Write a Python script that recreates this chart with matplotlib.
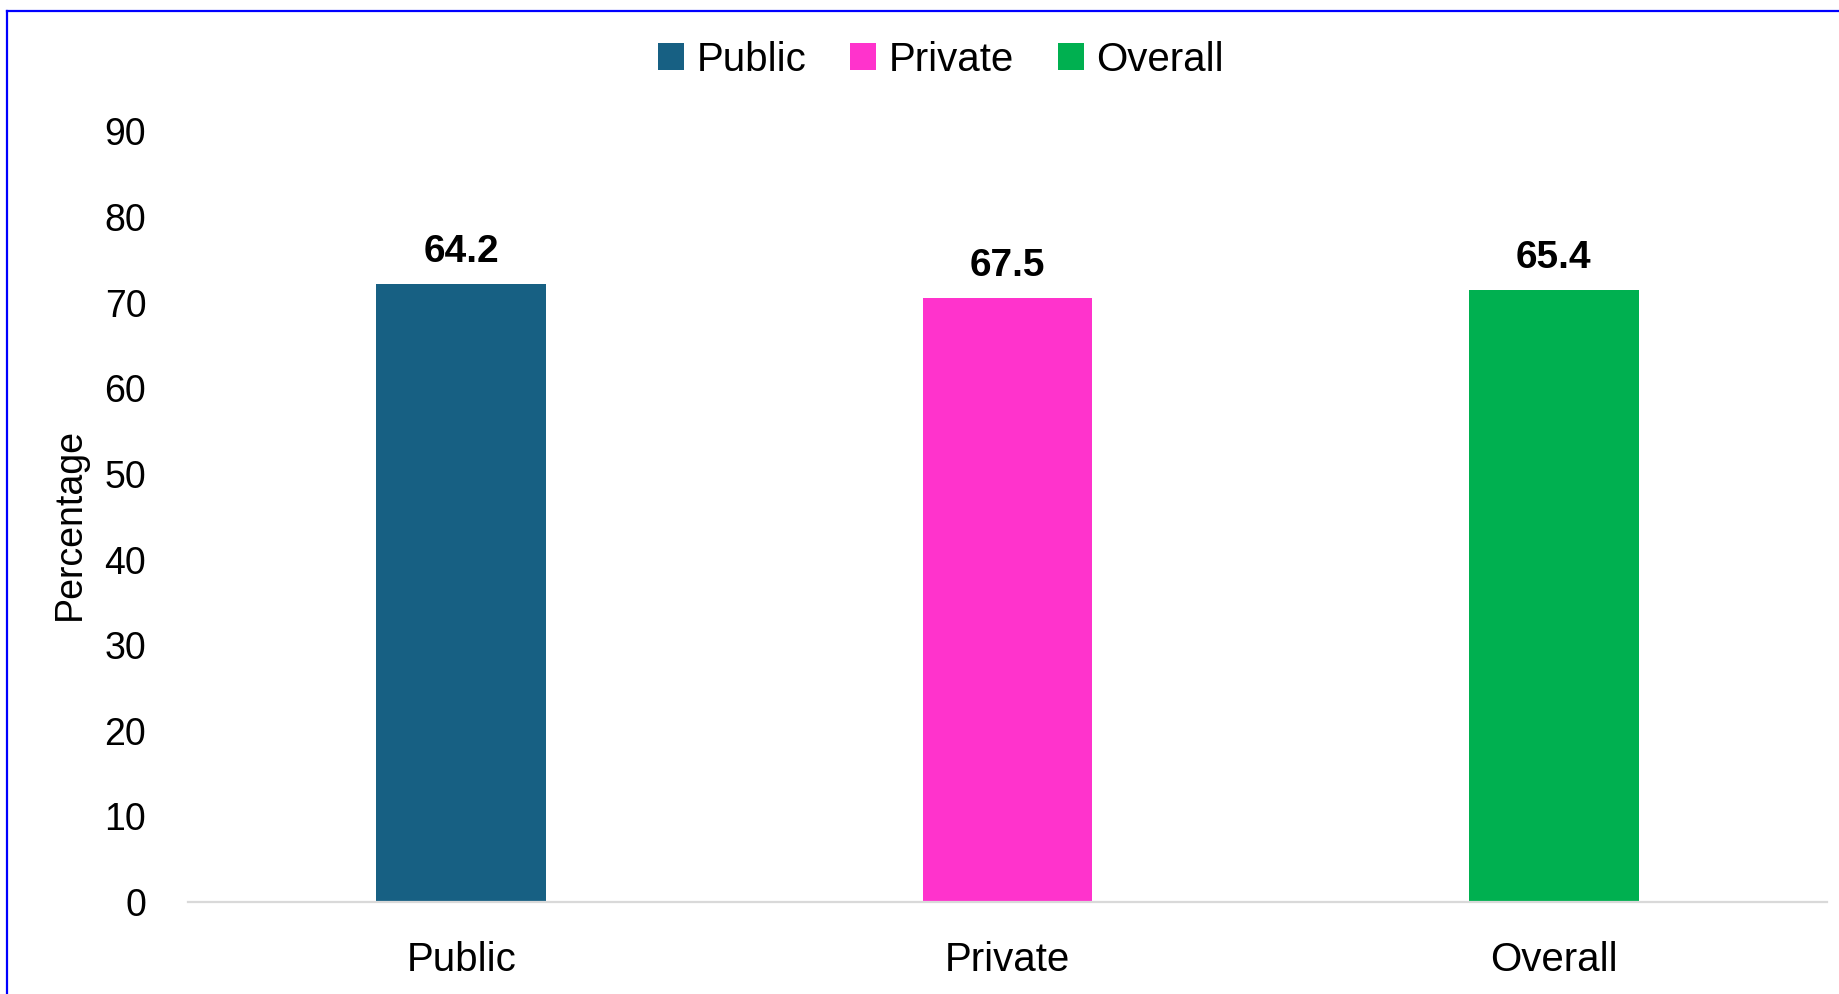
import matplotlib
matplotlib.use("Agg")
import matplotlib.pyplot as plt
from matplotlib.lines import Line2D
from matplotlib.patches import Patch

categories = ["Public", "Private", "Overall"]
bar_heights = [72.2, 70.5, 71.5]
value_labels = ["64.2", "67.5", "65.4"]
colors = ["#176083", "#FF33CC", "#00B050"]
yticks = [0, 10, 20, 30, 40, 50, 60, 70, 80, 90]

plt.rcParams['font.family'] = ['Liberation Sans', 'DejaVu Sans']

W, H = 1839, 994
fig = plt.figure(figsize=(W / 100, H / 100), dpi=100)
ax = fig.add_axes([188 / W, 1 - 902 / H, (1827 - 188) / W, (902 - 131.4) / H])

x = range(len(categories))
ax.bar(x, bar_heights, width=0.31, color=colors)
for xi, h, lab in zip(x, bar_heights, value_labels):
    ax.annotate(lab, (xi, h), xytext=(0, 10), textcoords="offset points",
                ha="center", va="bottom", fontsize=28, fontweight="bold")

ax.set_xlim(-0.5, 2.5)
ax.set_ylim(0, 90)
ax.set_yticks(yticks)
ax.set_xticks(list(x))
ax.set_xticklabels(categories, fontsize=29)
ax.tick_params(axis="y", labelsize=27, length=0, pad=30)
ax.tick_params(axis="x", length=0, pad=28)
for s in ["top", "right", "left"]:
    ax.spines[s].set_visible(False)
ax.spines["bottom"].set_color("#D9D9D9")
ax.spines["bottom"].set_linewidth(1.6)
ax.set_ylabel("Percentage", fontsize=27)
ax.yaxis.set_label_coords(-0.061, 0.49)

handles = [Patch(facecolor=c, label=l) for c, l in zip(colors, categories)]
fig.legend(handles=handles, loc="center", bbox_to_anchor=(941 / W, 1 - 60 / H),
           ncol=3, frameon=False, fontsize=29, handlelength=0.65, handleheight=0.65,
           handletextpad=0.3, columnspacing=1.1)

# blue border (top and left visible)
fig.add_artist(Line2D([7 / W, 1.01], [1 - 11 / H, 1 - 11 / H], color="#0000FF", lw=1.6,
                      transform=fig.transFigure))
fig.add_artist(Line2D([7 / W, 7 / W], [-0.01, 1 - 11 / H], color="#0000FF", lw=1.6,
                      transform=fig.transFigure))

fig.savefig("out.png", dpi=100)
